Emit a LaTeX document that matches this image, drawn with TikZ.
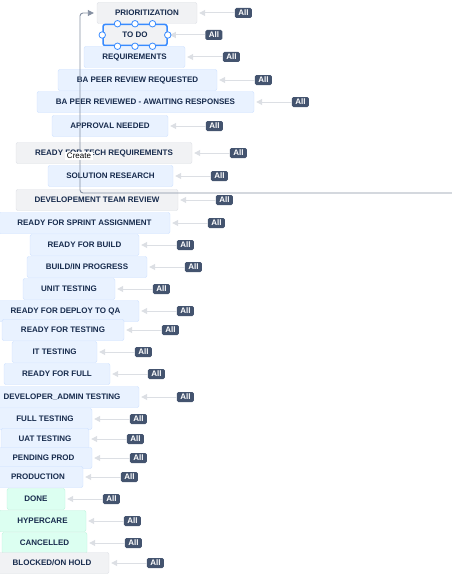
\documentclass[tikz,border=0pt]{standalone}
\usepackage{fontspec}
\setmainfont{Liberation Sans}
\usetikzlibrary{positioning,arrows.meta}

\definecolor{txtblue}{HTML}{172B4D}
\definecolor{bluebg}{HTML}{E9F2FF}
\definecolor{bluebd}{HTML}{CCE0FF}
\definecolor{greybg}{HTML}{F1F2F4}
\definecolor{greybd}{HTML}{DCDFE4}
\definecolor{greenbg}{HTML}{DCFFF1}
\definecolor{greenbd}{HTML}{BAF3DB}
\definecolor{badgebg}{HTML}{44546F}
\definecolor{flowgrey}{HTML}{DCDFE4}
\definecolor{linegrey}{HTML}{8590A2}
\definecolor{selblue}{HTML}{388BFF}

\begin{document}
\begin{tikzpicture}[x=1pt,y=-1pt,
    state/.style={draw=bluebd, fill=bluebg, rounded corners=2pt, inner sep=0pt,
      minimum height=21pt, text=txtblue, font=\bfseries\fontsize{8}{9}\selectfont},
    greystate/.style={state, draw=greybd, fill=greybg},
    donestate/.style={state, draw=greenbd, fill=greenbg},
    badge/.style={fill=badgebg, text=white, rounded corners=1.5pt, inner sep=0pt,
      minimum width=17pt, minimum height=10pt, font=\bfseries\fontsize{8}{9}\selectfont},
    flow/.style={draw=flowgrey, line width=1pt, -{Triangle[length=6pt,width=6pt]}},
    handle/.style={circle, draw=selblue, fill=white, line width=0.8pt, inner sep=0pt, minimum size=6.5pt}]
  \useasboundingbox (0,0) rectangle (452,578);

  % statuses
  \node[greystate, minimum width=100] (prio) at (147,13) {PRIORITIZATION};
  \node[greystate, draw=selblue, line width=1.5pt, minimum width=64] (todo) at (135,35) {TO DO};
  \node[state, minimum width=101] (req) at (134.5,57) {REQUIREMENTS};
  \node[state, minimum width=159] (bareq) at (137.5,80) {BA PEER REVIEW REQUESTED};
  \node[state, minimum width=217] (bardone) at (145.5,102) {BA PEER REVIEWED - AWAITING RESPONSES};
  \node[state, minimum width=116] (appr) at (110,126) {APPROVAL NEEDED};
  \node[greystate, minimum width=176] (rtech) at (104,153) {READY FOR TECH REQUIREMENTS};
  \node[state, minimum width=125] (solres) at (110.5,176) {SOLUTION RESEARCH};
  \node[greystate, minimum width=162] (devrev) at (97,200) {DEVELOPEMENT TEAM REVIEW};
  \node[state, minimum width=171] (rsprint) at (84.5,223) {READY FOR SPRINT ASSIGNMENT};
  \node[state, minimum width=109] (rbuild) at (84.5,245) {READY FOR BUILD};
  \node[state, minimum width=120] (build) at (87,267) {BUILD/IN PROGRESS};
  \node[state, minimum width=92] (unit) at (69,289) {UNIT TESTING};
  \node[state, minimum width=147] (rdeploy) at (65.5,311) {READY FOR DEPLOY TO QA};
  \node[state, minimum width=122] (rtest) at (63,330) {READY FOR TESTING};
  \node[state, minimum width=85] (ittest) at (54.5,352) {IT TESTING};
  \node[state, minimum width=106] (rfull) at (57,374) {READY FOR FULL};
  \node[state, minimum width=154] (devadmin) at (62,397) {DEVELOPER\_ADMIN TESTING};
  \node[state, minimum width=94] (fulltest) at (45,419) {FULL TESTING};
  \node[state, minimum width=88] (uat) at (45,439) {UAT TESTING};
  \node[state, minimum width=97] (pendprod) at (43.5,458) {PENDING PROD};
  \node[state, minimum width=90] (prod) at (38,477) {PRODUCTION};
  \node[donestate, minimum width=58] (done) at (36,499) {DONE};
  \node[donestate, minimum width=87] (hyper) at (42.5,521) {HYPERCARE};
  \node[donestate, minimum width=85] (cancel) at (44.5,543) {CANCELLED};
  \node[greystate, minimum width=114] (blocked) at (52,563) {BLOCKED/ON HOLD};

  % global transitions
  \foreach \n in {prio,todo,req,bareq,bardone,appr,rtech,solres,devrev,rsprint,
      rbuild,build,unit,rdeploy,rtest,ittest,rfull,devadmin,fulltest,uat,
      pendprod,prod,done,hyper,cancel,blocked} {
    \node[badge, right=37.5pt of \n] (all\n) {All};
    \draw[flow] (all\n) -- ([xshift=2pt]\n.east);
  }

  % selection handles
  \foreach \dx [count=\i] in {-17.5,0,17.5} {
    \node[handle] (top\i) at ([xshift=\dx]todo.north) {};
    \node[handle] (bot\i) at ([xshift=\dx]todo.south) {};
  }
  \node[handle] (hleft) at (todo.west) {};
  \node[handle] (hright) at (todo.east) {};

  % create transition
  \coordinate (start) at (452,193);
  \draw[linegrey, line width=0.9pt, rounded corners=3pt, shorten >=3pt,
      -{Triangle[length=6pt,width=6pt]}] (start) -- (80,193) |- (prio.west);
  \node[fill=white, inner sep=1.5pt, text=black, font=\fontsize{8}{9}\selectfont] (create) at (79,156) {Create};
\end{tikzpicture}
\end{document}
